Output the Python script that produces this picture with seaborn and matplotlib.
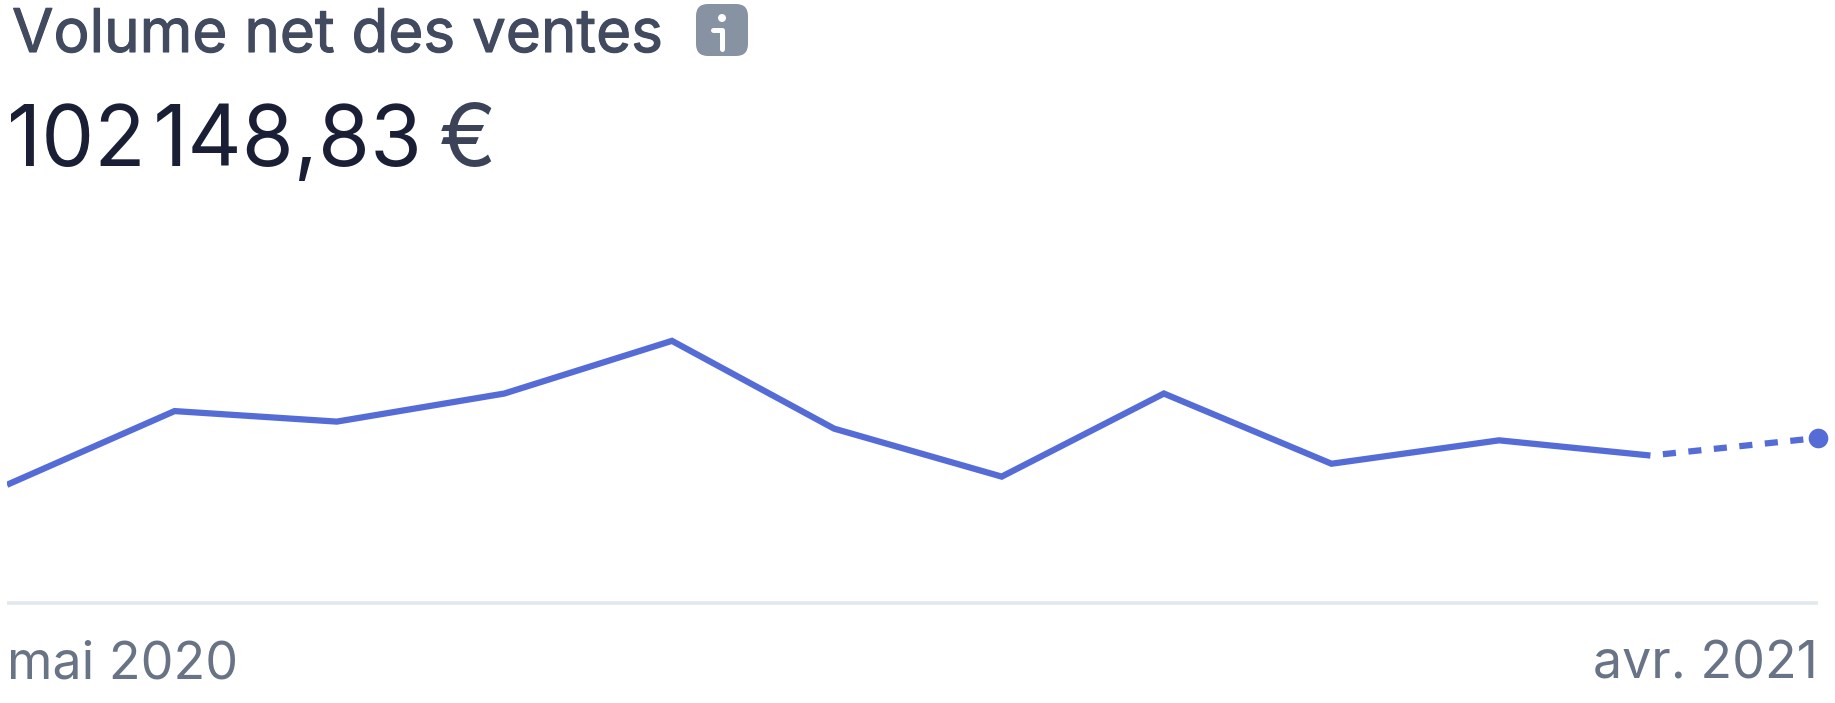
import pandas as pd
import matplotlib.pyplot as plt
import matplotlib.patheffects as pe
from matplotlib.patches import FancyBboxPatch, Circle
from matplotlib.lines import Line2D
import seaborn as sns

months = ["2020-05-01", "2020-06-01", "2020-07-01", "2020-08-01", "2020-09-01", "2020-10-01",
          "2020-11-01", "2020-12-01", "2021-01-01", "2021-02-01", "2021-03-01", "2021-04-01"]
sales = [5783, 9390, 8875, 10249, 12826, 8531, 6184, 10249, 6814, 7959, 7215, 8074]
title = "Volume net des ventes"
total = "102\u200a148,83"
currency = "€"
tick_labels = ["mai 2020", "avr. 2021"]

BLUE = "#556cd6"
W, H = 1835, 703

sns.set_theme(style="white")
plt.rcParams["font.family"] = ["Inter", "DejaVu Sans"]

df = pd.DataFrame({"month": pd.to_datetime(months), "sales": sales})

fig = plt.figure(figsize=(W / 100, H / 100), dpi=100, facecolor="white")
# axes span: first month to last month, baseline at y=603px
ymax = 14000
ax_h = ymax / 57.26 * 1.1703
ax = fig.add_axes([7 / W, (H - 603) / H, (1818 - 7) / W, ax_h / H])
ax.patch.set_alpha(0)

# solid part stops one month before the end, the rest is the projection
sns.lineplot(data=df.iloc[:-1], x="month", y="sales", color=BLUE, linewidth=4.5,
             solid_capstyle="butt", solid_joinstyle="miter", errorbar=None, ax=ax)
sns.lineplot(data=df.iloc[-2:], x="month", y="sales", color=BLUE, linewidth=4.5,
             linestyle=(2.1, (2.1, 2.0)), errorbar=None, ax=ax)
sns.scatterplot(data=df.iloc[-1:], x="month", y="sales", color=BLUE, s=200,
                linewidth=0, clip_on=False, zorder=5, ax=ax)

ax.set_xlim(df["month"].iloc[0], df["month"].iloc[-1])
ax.set_ylim(0, ymax)
ax.set_xlabel("")
ax.set_ylabel("")
ax.set_yticks([])
ax.set_xticks([df["month"].iloc[0], df["month"].iloc[-1]], labels=tick_labels)
ax.tick_params(axis="x", length=0, pad=27, labelsize=37.4, labelcolor="#697386")
ax.get_xticklabels()[0].set_ha("left")
ax.get_xticklabels()[1].set_ha("right")
sns.despine(ax=ax, left=True)
ax.spines["bottom"].set_color("#e3e8ee")
ax.spines["bottom"].set_linewidth(2.6)
ax.spines["bottom"].set_capstyle("butt")

# title looks medium weight in the reference, thicken it a little
fig.text(12 / W, 1 - 52 / H, title, fontsize=43.3, color="#424a60", ha="left", va="baseline",
         path_effects=[pe.withStroke(linewidth=0.8, foreground="#424a60")])
fig.text(7 / W, 1 - 166 / H, total, fontsize=60.5, color="#1a1f36", ha="left", va="baseline")
fig.text(439 / W, 1 - 166 / H, currency, fontsize=62, color="#3c4257", ha="left", va="baseline")

# info badge, drawn in pixels from the top left
badge = FancyBboxPatch((696, H - 56), 52, 52, boxstyle="round,pad=0,rounding_size=12",
                       transform=None, facecolor="#8792a2", edgecolor="none")
fig.add_artist(badge)
fig.add_artist(Circle((722, H - 18), 4, transform=None, facecolor="white", edgecolor="none"))
fig.add_artist(Line2D([713, 722, 722], [H - 30, H - 30, H - 49], transform=None, color="white",
                      linewidth=3.6, solid_capstyle="round", solid_joinstyle="round"))

fig.savefig("out.png", dpi=100)
